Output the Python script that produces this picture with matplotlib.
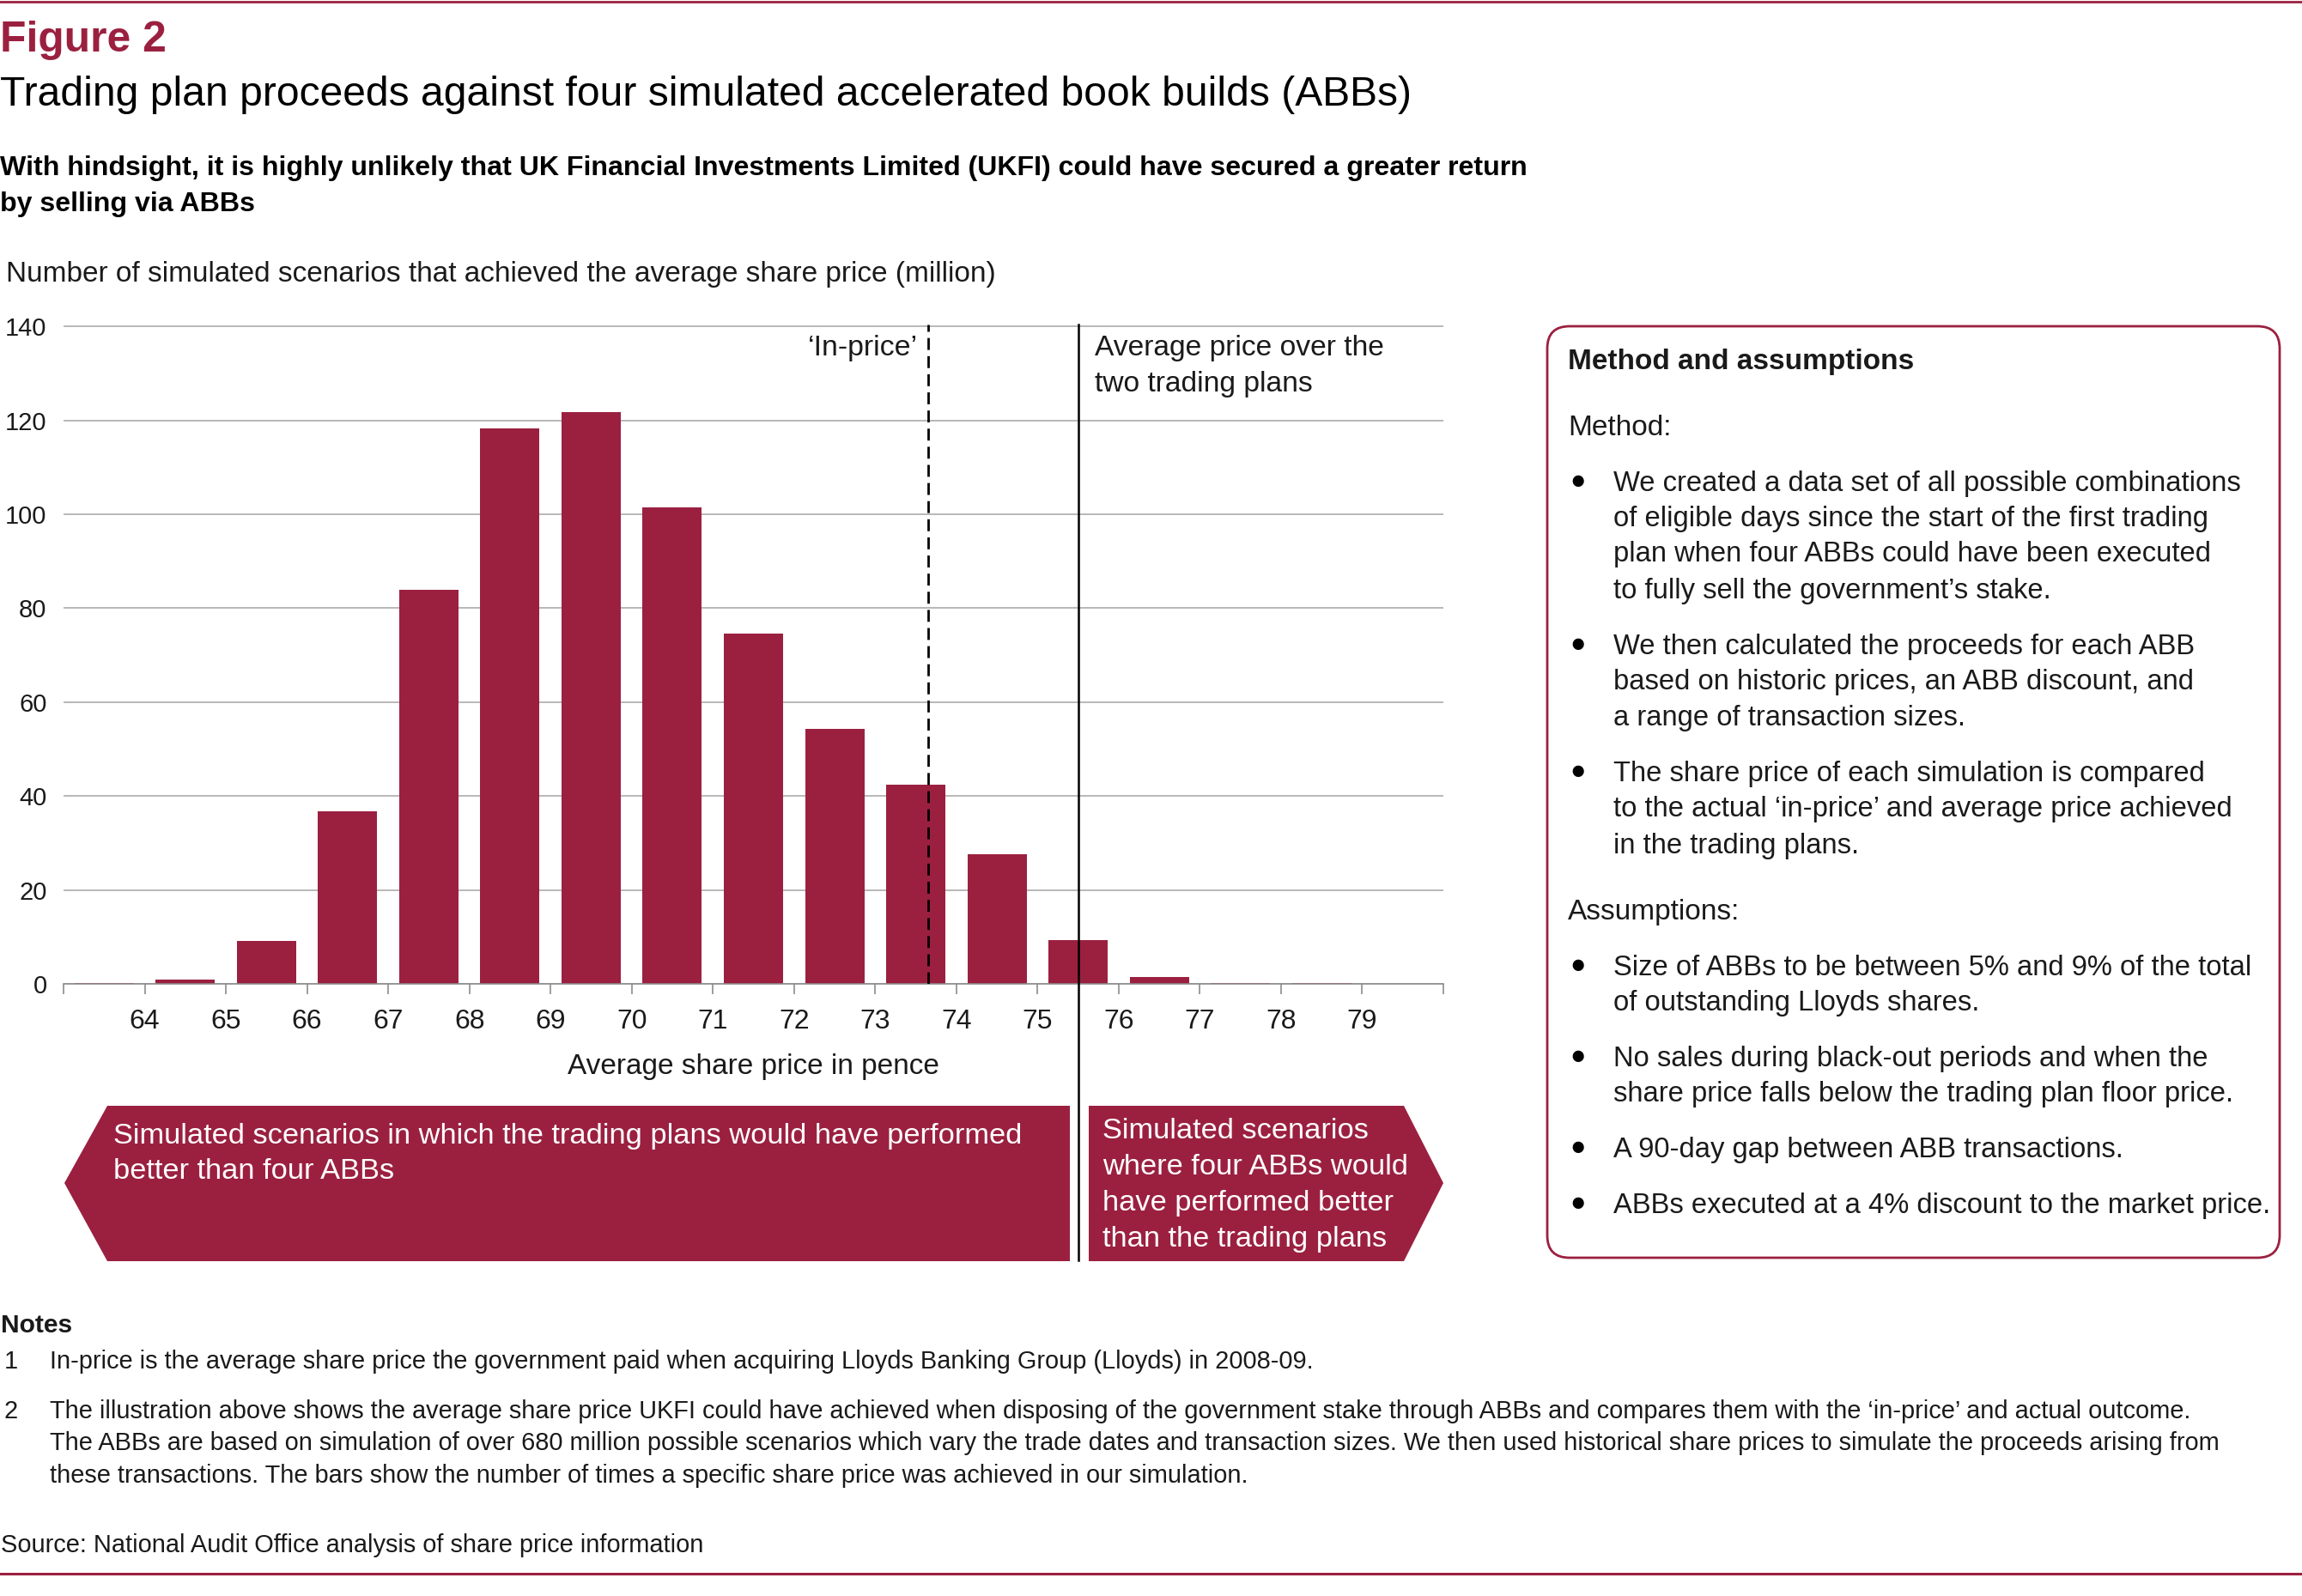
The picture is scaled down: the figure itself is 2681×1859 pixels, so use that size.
import matplotlib
matplotlib.use("Agg")
import matplotlib.pyplot as plt
from matplotlib.patches import Polygon, FancyBboxPatch
from matplotlib.transforms import blended_transform_factory

W, H = 2681, 1859
DPI = 200
RED = "#9b2040"
GRID = "#b8b8b8"
TXT = "#1a1a1a"

plt.rcParams['font.family'] = ['Liberation Sans', 'DejaVu Sans']

# data: each bar covers one penny, [start, start + 1)
bin_starts = list(range(63, 80))
scenarios = [0.2, 1.0, 9.2, 36.8, 83.9, 118.2, 121.7, 101.4, 74.5,
             54.3, 42.5, 27.6, 9.4, 1.5, 0.2, 0.1, 0.0]
price_labels = [str(p) for p in range(64, 80)]
y_ticks = [0, 20, 40, 60, 80, 100, 120, 140]
in_price = 73.65
avg_price = 75.5

fig = plt.figure(figsize=(W / DPI, H / DPI), dpi=DPI)

# chart axes (placed in pixel terms)
ax_l, ax_r, ax_t, ax_b = 74, 1681, 378, 1146
ax = fig.add_axes([ax_l / W, 1 - ax_b / H, (ax_r - ax_l) / W, (ax_b - ax_t) / H])

centers = [s + 0.5 for s in bin_starts]
ax.bar(centers, scenarios, width=0.73, color=RED, zorder=2)
ax.set_xlim(bin_starts[0], bin_starts[-1] + 1)
ax.set_ylim(0, 140.4)
ax.set_yticks(y_ticks)
ax.set_yticklabels([str(v) for v in y_ticks], fontsize=10.5, color=TXT)
ax.set_xticks(range(bin_starts[0], bin_starts[-1] + 2))
ax.set_xticklabels([''] + price_labels + [''], fontsize=11.5, color=TXT)
ax.tick_params(axis='y', length=0, pad=7)
ax.tick_params(axis='x', length=4.3, width=0.6, color='#8c8c8c', pad=6)
ax.yaxis.grid(True, color=GRID, lw=0.7)
ax.set_axisbelow(True)
for side in ['top', 'right', 'left']:
    ax.spines[side].set_visible(False)
ax.spines['bottom'].set_color('#8c8c8c')
ax.spines['bottom'].set_linewidth(0.6)
ax.patch.set_alpha(0)

ax.axvline(in_price, color='black', lw=1.0, dashes=(5, 2.6), zorder=3)

# overlay in pixel units for the page furniture
ov = fig.add_axes([0, 0, 1, 1])
ov.set_xlim(0, W)
ov.set_ylim(H, 0)
ov.axis('off')
ov.patch.set_alpha(0)

# solid average price line runs down through the arrows
tr = blended_transform_factory(ax.transData, ov.transData)
ax.plot([avg_price, avg_price], [ax_t, 1468], transform=tr, color='black',
        lw=0.9, clip_on=False, zorder=3)

ov.plot([0, W], [2, 2], color=RED, lw=1.0)
ov.plot([0, W], [1833, 1833], color=RED, lw=1.1)

ov.text(0, 60, "Figure 2", fontsize=17.9, fontweight='bold', color=RED)
ov.text(0, 123, "Trading plan proceeds against four simulated accelerated book builds (ABBs)",
        fontsize=17.3, color='black')
ov.text(0, 204, "With hindsight, it is highly unlikely that UK Financial Investments Limited (UKFI) "
        "could have secured a greater return", fontsize=11.55, fontweight='bold', color='black')
ov.text(0, 246, "by selling via ABBs", fontsize=11.55, fontweight='bold', color='black')
ov.text(7, 328, "Number of simulated scenarios that achieved the average share price (million)",
        fontsize=12, color=TXT)

ov.text(1069, 414, "\u2018In-price\u2019", fontsize=12.2, ha='right', color=TXT)
ov.text(1275, 414, "Average price over the", fontsize=12.1, color=TXT)
ov.text(1275, 456, "two trading plans", fontsize=12.1, color=TXT)
ov.text((ax_l + ax_r) / 2, 1251, "Average share price in pence", fontsize=12,
        ha='center', color=TXT)

# arrows
ov.add_patch(Polygon([(75, 1378), (125, 1288), (1246, 1288), (1246, 1469), (125, 1469)],
                     closed=True, color=RED, lw=0))
ov.add_patch(Polygon([(1268, 1288), (1635, 1288), (1681, 1378), (1635, 1469), (1268, 1469)],
                     closed=True, color=RED, lw=0))
ov.text(132, 1332, "Simulated scenarios in which the trading plans would have performed",
        fontsize=12.4, color='white')
ov.text(132, 1373, "better than four ABBs", fontsize=12.4, color='white')
for y, line in zip([1326, 1368, 1410, 1452],
                   ["Simulated scenarios", "where four ABBs would",
                    "have performed better", "than the trading plans"]):
    ov.text(1284, y, line, fontsize=12.4, color='white')

# method box
ov.add_patch(FancyBboxPatch((1802, 380), 853, 1085,
                            boxstyle="round,pad=0,rounding_size=26",
                            fc='white', ec=RED, lw=1.0))
ov.text(1826, 430, "Method and assumptions", fontsize=12, fontweight='bold', color=TXT)
ov.text(1826, 507, "Method:", fontsize=12, color=TXT)
ov.text(1826, 1071, "Assumptions:", fontsize=12, color=TXT)
bullets = [
    ([572, 613, 654, 697], ["We created a data set of all possible combinations",
                            "of eligible days since the start of the first trading",
                            "plan when four ABBs could have been executed",
                            "to fully sell the government\u2019s stake."]),
    ([762, 803, 845], ["We then calculated the proceeds for each ABB",
                       "based on historic prices, an ABB discount, and",
                       "a range of transaction sizes."]),
    ([910, 951, 994], ["The share price of each simulation is compared",
                       "to the actual \u2018in-price\u2019 and average price achieved",
                       "in the trading plans."]),
    ([1136, 1177], ["Size of ABBs to be between 5% and 9% of the total",
                    "of outstanding Lloyds shares."]),
    ([1242, 1283], ["No sales during black-out periods and when the",
                    "share price falls below the trading plan floor price."]),
    ([1348], ["A 90-day gap between ABB transactions."]),
    ([1413], ["ABBs executed at a 4% discount to the market price."]),
]
for ys, lines in bullets:
    ov.text(1838, ys[0] - 11, "\u25cf", fontsize=11, va='center', ha='center', color='black')
    for y, line in zip(ys, lines):
        ov.text(1879, y, line, fontsize=11.8, color=TXT)

# notes
NOTE = 10.45
ov.text(1, 1552, "Notes", fontsize=10.8, fontweight='bold', color=TXT)
ov.text(5, 1594, "1", fontsize=NOTE, color=TXT)
ov.text(58, 1594, "In-price is the average share price the government paid when acquiring "
        "Lloyds Banking Group (Lloyds) in 2008-09.", fontsize=NOTE, color=TXT)
ov.text(5, 1652, "2", fontsize=NOTE, color=TXT)
note2 = ["The illustration above shows the average share price UKFI could have achieved when "
         "disposing of the government stake through ABBs and compares them with the "
         "\u2018in-price\u2019 and actual outcome.",
         "The ABBs are based on simulation of over 680 million possible scenarios which vary the "
         "trade dates and transaction sizes. We then used historical share prices to simulate "
         "the proceeds arising from",
         "these transactions. The bars show the number of times a specific share price was "
         "achieved in our simulation."]
for y, line in zip([1652, 1689, 1727], note2):
    ov.text(58, y, line, fontsize=NOTE, color=TXT)
ov.text(1, 1808, "Source: National Audit Office analysis of share price information",
        fontsize=NOTE, color=TXT)

fig.savefig("out.png", dpi=DPI)
